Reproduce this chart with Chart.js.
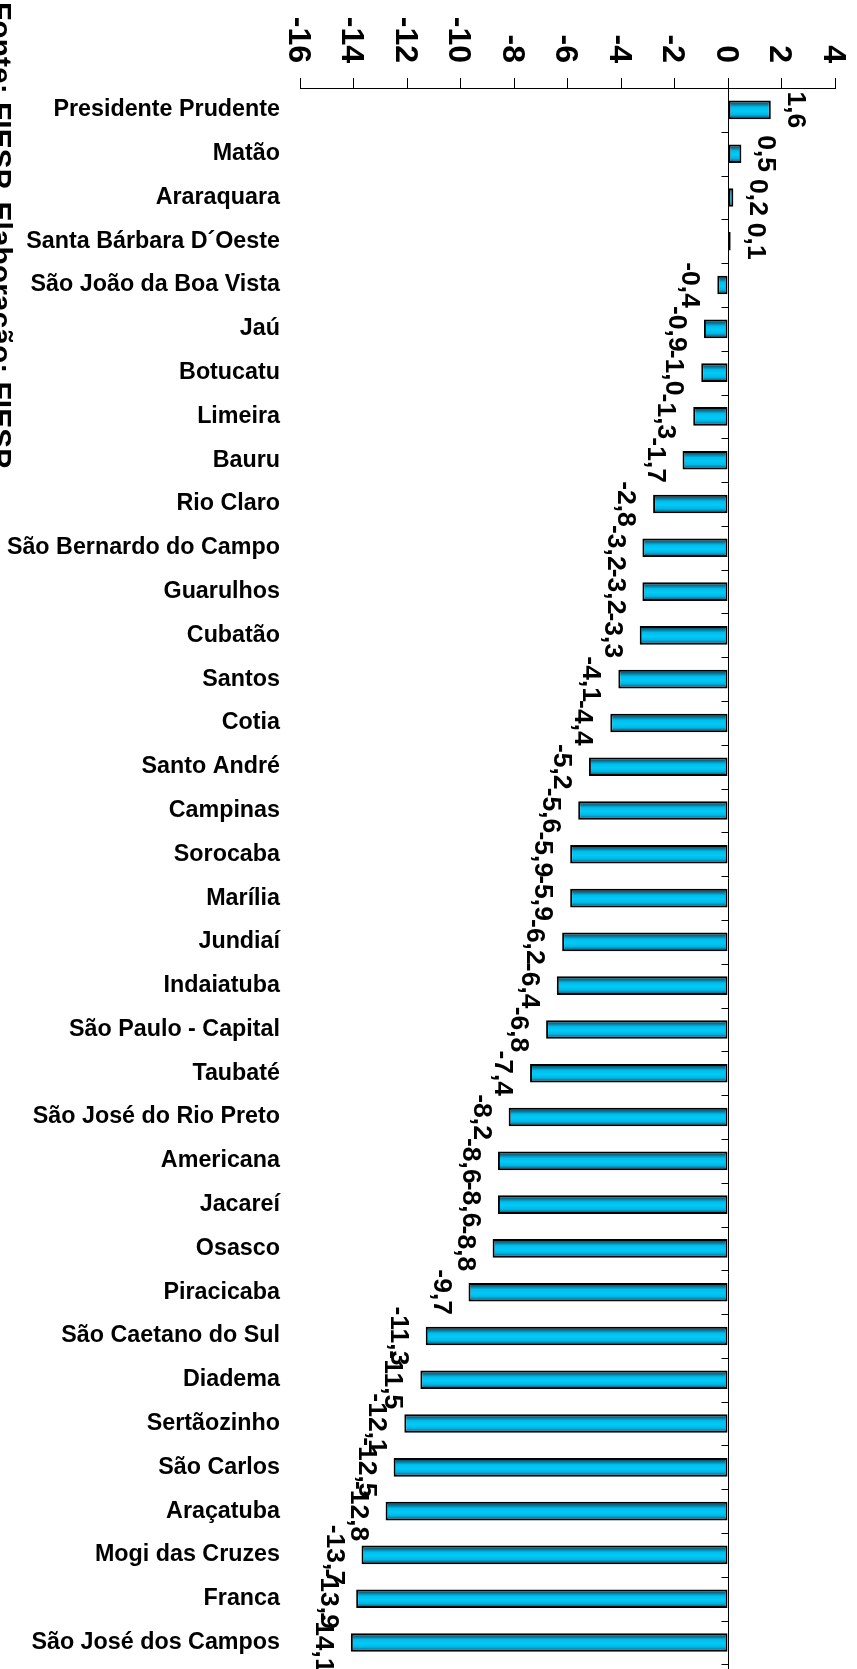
<!DOCTYPE html>
<html>
<head>
<meta charset="utf-8">
<script src="https://cdn.jsdelivr.net/npm/chart.js@4.4.1/dist/chart.umd.min.js"></script>
<style>
html,body{margin:0;padding:0;background:#fff;}
#wrap{position:relative;width:857px;height:1669px;}
</style>
</head>
<body>
<div id="wrap"><canvas id="c"></canvas></div>
<script>
const categories = [
  'Presidente Prudente', 'Matão', 'Araraquara', 'Santa Bárbara D´Oeste',
  'São João da Boa Vista', 'Jaú', 'Botucatu', 'Limeira', 'Bauru', 'Rio Claro',
  'São Bernardo do Campo', 'Guarulhos', 'Cubatão', 'Santos', 'Cotia',
  'Santo André', 'Campinas', 'Sorocaba', 'Marília', 'Jundiaí', 'Indaiatuba',
  'São Paulo - Capital', 'Taubaté', 'São José do Rio Preto', 'Americana',
  'Jacareí', 'Osasco', 'Piracicaba', 'São Caetano do Sul', 'Diadema',
  'Sertãozinho', 'São Carlos', 'Araçatuba', 'Mogi das Cruzes', 'Franca',
  'São José dos Campos'
];
const values = [
  1.6, 0.5, 0.2, 0.1,
  -0.4, -0.9, -1.0, -1.3, -1.7, -2.8,
  -3.2, -3.2, -3.3, -4.1, -4.4,
  -5.2, -5.6, -5.9, -5.9, -6.2, -6.4,
  -6.8, -7.4, -8.2, -8.6,
  -8.6, -8.8, -9.7, -11.3, -11.5,
  -12.1, -12.5, -12.8, -13.7, -13.9,
  -14.1
];
const xTicks = [-16, -14, -12, -10, -8, -6, -4, -2, 0, 2, 4];
const sourceNote = 'Fonte: FIESP. Elaboração: FIESP';

const FONT = '"Liberation Sans", Arial, Helvetica, sans-serif';
const BAR_PCT = 0.425;

function fmt(v) { return v.toFixed(1).replace('.', ','); }

function barGradient(c) {
  const chart = c.chart;
  const y = chart.scales && chart.scales.y;
  if (!y || c.type !== 'data' || !chart.chartArea) return '#00c0ee';
  const step = Math.abs(y.getPixelForValue(1) - y.getPixelForValue(0));
  const half = step * BAR_PCT / 2;
  const yc = y.getPixelForValue(c.dataIndex);
  const g = chart.ctx.createLinearGradient(0, yc - half, 0, yc + half);
  g.addColorStop(0, '#063a4c');
  g.addColorStop(0.18, '#0a6f8e');
  g.addColorStop(0.35, '#00bdec');
  g.addColorStop(0.55, '#00cbf7');
  g.addColorStop(0.75, '#00b6e4');
  g.addColorStop(0.9, '#00708f');
  g.addColorStop(1, '#03384a');
  return g;
}

const overlay = {
  id: 'overlay',
  afterDraw(chart) {
    const ctx = chart.ctx;
    const x = chart.scales.x, y = chart.scales.y;
    const area = chart.chartArea;
    ctx.save();
    // zero axis with category tick marks
    const x0 = Math.round(x.getPixelForValue(0)) + 0.5;
    const step = y.getPixelForValue(1) - y.getPixelForValue(0);
    ctx.strokeStyle = '#000';
    ctx.lineWidth = 1;
    ctx.beginPath();
    ctx.moveTo(x0, area.top);
    ctx.lineTo(x0, chart.height);
    for (let i = 0; i < categories.length; i++) {
      const yy = Math.round(y.getPixelForValue(i) + step / 2) + 0.5;
      ctx.moveTo(x0 - 7, yy);
      ctx.lineTo(x0, yy);
    }
    ctx.stroke();

    ctx.fillStyle = '#000';
    // top axis tick labels (rotated clockwise)
    const tSize = 32;
    ctx.font = 'bold ' + tSize + 'px ' + FONT;
    ctx.textAlign = 'right';
    ctx.textBaseline = 'alphabetic';
    xTicks.forEach(v => {
      const px = x.getPixelForValue(v);
      ctx.save();
      ctx.translate(px - 0.716 * tSize / 2, 63);
      ctx.rotate(Math.PI / 2);
      ctx.fillText(String(v), 0, 0);
      ctx.restore();
    });

    // value labels (rotated clockwise)
    const vSize = 25;
    const cap = 0.716 * vSize;
    ctx.font = 'bold ' + vSize + 'px ' + FONT;
    ctx.textAlign = 'center';
    values.forEach((v, i) => {
      const end = x.getPixelForValue(v);
      const yc = y.getPixelForValue(i);
      const bx = v >= 0 ? end + 17 : end - 17 - cap;
      ctx.save();
      ctx.translate(bx, yc);
      ctx.rotate(Math.PI / 2);
      ctx.scale(1.06, 1);
      ctx.fillText(fmt(v), 0, 0);
      ctx.restore();
    });

    // source note on the left edge (rotated clockwise, partly cut)
    ctx.font = 'bold 30px ' + FONT;
    ctx.textAlign = 'left';
    ctx.save();
    ctx.translate(-9, 2);
    ctx.rotate(Math.PI / 2);
    ctx.fillText(sourceNote, 0, 0);
    ctx.restore();

    ctx.restore();
  }
};

new Chart(document.getElementById('c'), {
  type: 'bar',
  data: {
    labels: categories,
    datasets: [{
      data: values,
      backgroundColor: barGradient,
      borderColor: '#000',
      borderWidth: 2,
      borderSkipped: false,
      barPercentage: BAR_PCT,
      categoryPercentage: 1
    }]
  },
  options: {
    indexAxis: 'y',
    responsive: true,
    maintainAspectRatio: false,
    animation: false,
    layout: { padding: { left: 0, right: 22, top: 0, bottom: 4.6 } },
    plugins: { legend: { display: false }, tooltip: { enabled: false } },
    scales: {
      x: {
        position: 'top',
        min: -16,
        max: 4,
        ticks: { display: false, stepSize: 2 },
        grid: { drawOnChartArea: false, drawTicks: true, tickLength: 10, color: '#000', lineWidth: 1 },
        border: { display: true, color: '#000', width: 1 },
        afterFit(s) { s.height = 88; s.paddingLeft = 0; s.paddingRight = 0; }
      },
      y: {
        ticks: {
          color: '#000',
          font: { family: FONT, size: 23.3, weight: 'bold' },
          padding: 20,
          autoSkip: false
        },
        grid: { display: false, drawTicks: false },
        border: { display: false },
        afterFit(s) { s.width = 300; s.paddingTop = 0; s.paddingBottom = 0; }
      }
    }
  },
  plugins: [overlay]
});
</script>
</body>
</html>
